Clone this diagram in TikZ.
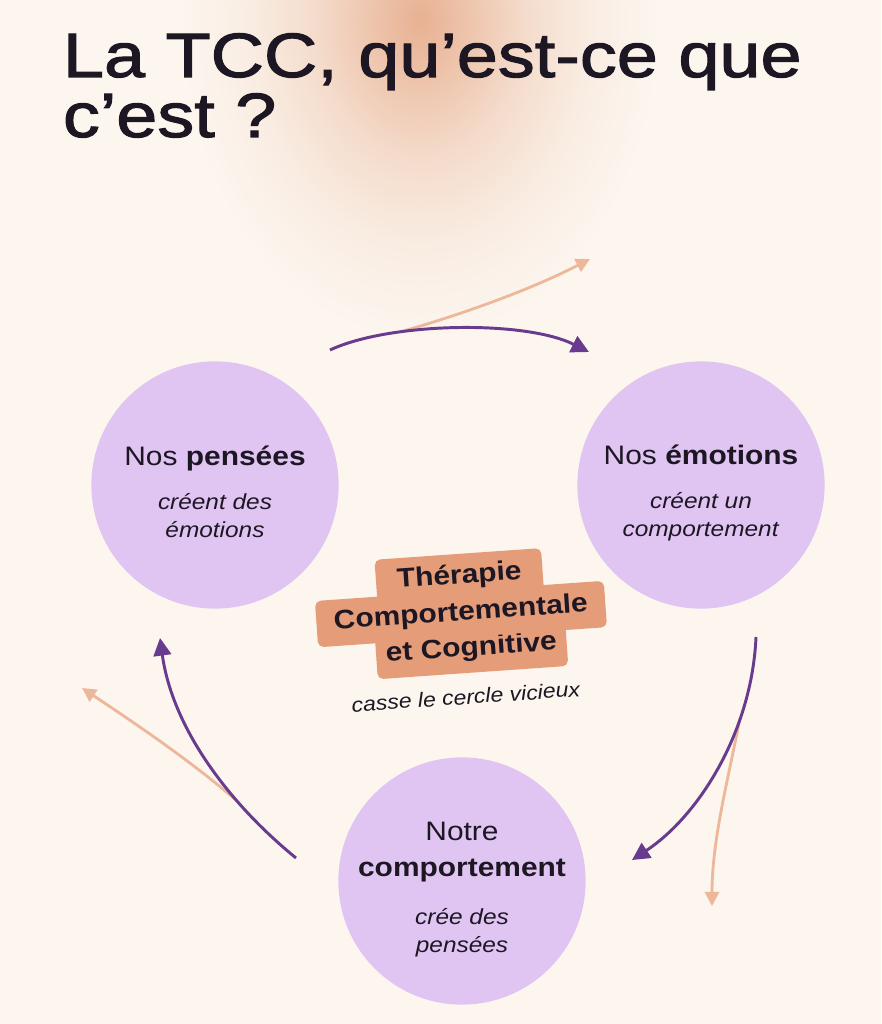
\documentclass[tikz,border=0pt]{standalone}
\usepackage{fontspec}
\setmainfont{Liberation Sans}[FakeStretch=1.12]
\newfontfamily\titlefont{Liberation Sans}[FakeStretch=1.18, FakeBold=1.8]
\usepackage{tikz}
\usetikzlibrary{arrows.meta, positioning, calc}
\definecolor{Cream}{HTML}{FCF6EF}
\definecolor{Glow}{HTML}{E8B192}
\definecolor{Lilac}{HTML}{E0C5F2}
\definecolor{Plum}{HTML}{683B8E}
\definecolor{Peach}{HTML}{EDB799}
\definecolor{Terra}{HTML}{E49C79}
\definecolor{Ink}{HTML}{1D1724}
\pgfdeclareradialshading{glow}{\pgfpointorigin}{color(0bp)=(Glow); color(5bp)=(Glow!72!Cream);
  color(11bp)=(Glow!38!Cream); color(18bp)=(Glow!13!Cream); color(25bp)=(Cream); color(50bp)=(Cream)}

\begin{document}
\begin{tikzpicture}[x=0.025cm, y=-0.025cm, text=Ink,
  bubble/.style={circle, fill=Lilac, minimum size=6.18cm, inner sep=0pt},
  bubbletext/.style={align=center, font=\fontsize{15.5}{20}\selectfont},
  tag/.style={fill=Terra, rounded corners=4pt, rotate=4, inner xsep=12.5pt,
    inner ysep=7pt, text height=14pt, text depth=5pt,
    font=\bfseries\fontsize{19}{24}\selectfont},
  cyclearrow/.style={line width=2.1pt, Plum, -{Triangle[length=12.5pt, width=12.5pt]}},
  leakarrow/.style={line width=2pt, Peach, -{Triangle[length=10pt, width=10pt]}},
  heading/.style={anchor=base west, font=\titlefont\fontsize{44.5}{50}\selectfont}]
  % Background and glow
  \fill[Cream] (0,0) rectangle (881,1024);
  \useasboundingbox (0,0) rectangle (881,1024);
  \shade[shading=glow] (420,20) ellipse (240 and 320);

  % Title
  \node[heading] (title) at (58,77) {La TCC, qu’est-ce que};
  \node[heading] (title2) at (58,137) {c’est ?};

  % The three circles
  \node[bubble] (pensees) at (215,485) {};
  \node[bubble] (emotions) at (701,485) {};
  \node[bubble] (comportement) at (462,881) {};
  \node[bubbletext] (pensees-txt) at ([yshift=-5pt]pensees.center)
    {{\fontsize{19}{20}\selectfont Nos \textbf{pensées}}\\[11pt]\textit{créent des}\\\textit{émotions}};
  \node[bubbletext] (emotions-txt) at ([yshift=-5.5pt]emotions.center)
    {{\fontsize{19}{20}\selectfont Nos \textbf{émotions}}\\[11pt]\textit{créent un}\\\textit{comportement}};
  \node[bubbletext] (comportement-txt) at ([yshift=-6pt]comportement.center)
    {{\fontsize{19}{20}\selectfont Notre}\\[5.5pt]{\fontsize{19}{20}\selectfont\bfseries comportement}\\[14pt]\textit{crée des}\\\textit{pensées}};

  % Centre label (drawn bottom up so no box hides a line)
  \begin{scope}[rotate around={4:(462,615)}]
    \node[tag, inner xsep=7pt] (cog) at (469,650) {et Cognitive};
    \node[tag] (comp) at (461,614) {Comportementale};
    \node[tag, inner xsep=15pt] (ther) at (462,577) {Thérapie};
    \node[rotate=4, font=\itshape\fontsize{14.6}{16}\selectfont] (casse) at (460,697) {casse le cercle vicieux};
  \end{scope}

  % Arrow ends and the points where the leaks leave the cycle
  \coordinate (top0) at (330,350);
  \coordinate (top1) at (589,352);
  \coordinate (topsplit) at (400,332);
  \coordinate (topleak) at (590,259);
  \coordinate (right0) at (756,637);
  \coordinate (right1) at (632,860);
  \coordinate (rightsplit) at (740,718);
  \coordinate (rightleak) at (712,906);
  \coordinate (left0) at (296,858);
  \coordinate (left1) at (160,638);
  \coordinate (leftsplit) at (237,801);
  \coordinate (leftleak) at (82,688);

  % Leaks first, cycle on top
  \draw[leakarrow] (topsplit) .. controls (460,315) and (530,290) .. (topleak);
  \draw[leakarrow] (rightsplit) .. controls (728,780) and (712,840) .. (rightleak);
  \draw[leakarrow] (leftsplit) .. controls (190,760) and (130,720) .. (leftleak);
  \draw[cyclearrow] (top0) .. controls (390,322) and (525,320) .. (top1);
  \draw[cyclearrow] (right0) .. controls (752,730) and (700,815) .. (right1);
  \draw[cyclearrow] (left0) .. controls (225,800) and (172,725) .. (left1);
\end{tikzpicture}
\end{document}
